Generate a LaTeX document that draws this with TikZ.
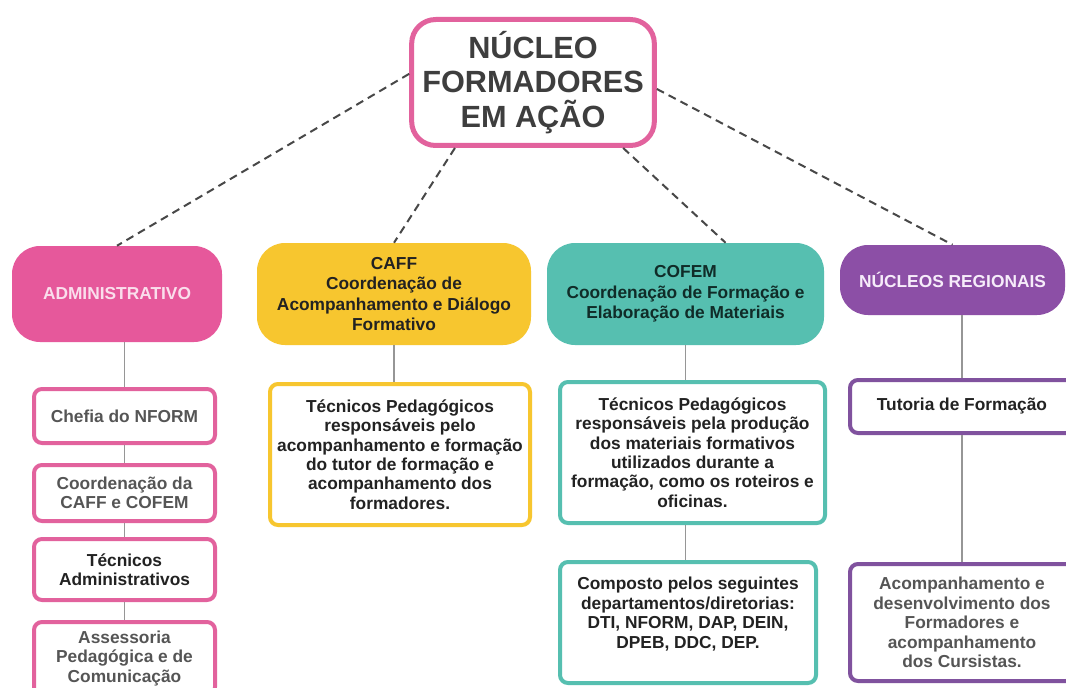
\documentclass[tikz,border=0pt]{standalone}
\usepackage{fontspec}
\setmainfont{Liberation Sans}
\usepackage{tikz}

\definecolor{nfpink}{RGB}{230,88,155}
\definecolor{nfpinkline}{RGB}{226,98,157}
\definecolor{nfyellow}{RGB}{247,198,47}
\definecolor{nfteal}{RGB}{86,191,176}
\definecolor{nfpurple}{RGB}{140,79,166}
\definecolor{nfpurpleline}{RGB}{128,82,158}
\definecolor{titlegray}{RGB}{62,62,62}
\definecolor{darktext}{RGB}{34,34,34}
\definecolor{softtext}{RGB}{85,85,85}
\definecolor{linkgray}{RGB}{72,72,72}
\definecolor{treegray}{RGB}{150,150,150}

\tikzset{
  headbox/.style={draw=nfpinkline, line width=3.75pt, rounded corners=18pt, fill=white, align=center,
    font=\fontsize{23}{26}\selectfont\bfseries, text=titlegray, inner sep=0pt,
    minimum width=182pt, minimum height=94.5pt},
  groupbox/.style={rounded corners=21pt, align=center, inner sep=0pt,
    font=\fontsize{13}{15.4}\selectfont\bfseries},
  itembox/.style={draw=#1, fill=white, line width=3pt, rounded corners=6pt, align=center, inner sep=0pt,
    font=\fontsize{13}{14.6}\selectfont\bfseries, text=darktext},
  dashlink/.style={draw=linkgray, line width=1.5pt, dash pattern=on 6pt off 4pt},
  treelink/.style={draw=treegray, line width=1.1pt},
}

\begin{document}
\begin{tikzpicture}[x=0.75pt,y=0.75pt,yscale=-1,xscale=1]
%set diagram size 1066 x 688
\clip (0,0) rectangle (1066,688);
\fill [white] (0,0) rectangle (1066,688);

%Shape: Rounded Rect (title)
\node [headbox] (top) at (533,82.5) {NÚCLEO\\FORMADORES\\EM AÇÃO};

%Shape: Rounded Rect (groups)
\node [groupbox, fill=nfpink, text={rgb,255:red,250;green,222;blue,236}, minimum width=157.5pt, minimum height=72pt] (admin) at (117,294) {ADMINISTRATIVO};
\node [groupbox, fill=nfyellow, text=darktext, minimum width=205.5pt, minimum height=76.5pt] (caff) at (394,294) {CAFF\\Coordenação de\\Acompanhamento e Diálogo\\Formativo};
\node [groupbox, fill=nfteal, text={rgb,255:red,16;green,44;blue,40}, minimum width=207.75pt, minimum height=76.5pt] (cofem) at (685.5,294) {COFEM\\Coordenação de Formação e\\Elaboração de Materiais};
\node [groupbox, fill=nfpurple, text={rgb,255:red,246;green,236;blue,250}, minimum width=168.75pt, minimum height=52.5pt] (nucleos) at (952.5,280) {NÚCLEOS REGIONAIS};

%Shape: Rounded Rect (administrativo column)
\node [itembox=nfpinkline, text=softtext, minimum width=135.75pt, minimum height=40.5pt] (chefia) at (124.5,416) {Chefia do NFORM};
\node [itembox=nfpinkline, text=softtext, minimum width=135.75pt, minimum height=42pt] (coord) at (124.5,493) {Coordenação da\\CAFF e COFEM};
\node [itembox=nfpinkline, minimum width=135.75pt, minimum height=45.75pt] (tecadm) at (124.5,569.5) {Técnicos\\Administrativos};
\node [itembox=nfpinkline, text=softtext, minimum width=135.75pt, minimum height=54.75pt] (assess) at (124.5,658.5) {Assessoria\\Pedagógica e de\\Comunicação};

%Shape: Rounded Rect (caff column)
\node [itembox=nfyellow, minimum width=195pt, minimum height=105.75pt] (caffsub) at (400,454.5) {Técnicos Pedagógicos\\responsáveis pelo\\acompanhamento e formação\\do tutor de formação e\\acompanhamento dos\\formadores.};

%Shape: Rounded Rect (cofem column)
\node [itembox=nfteal, minimum width=198.75pt, minimum height=105.75pt] (cofemsub) at (692.5,452.5) {Técnicos Pedagógicos\\responsáveis pela produção\\dos materiais formativos\\utilizados durante a\\formação, como os roteiros e\\oficinas.};
\node [itembox=nfteal, minimum width=192pt, minimum height=90.75pt] (deptos) at (688,622.5) {Composto pelos seguintes\\departamentos/diretorias:\\DTI, NFORM, DAP, DEIN,\\DPEB, DDC, DEP.\\\mbox{}};

%Shape: Rounded Rect (regionais column)
\node [itembox=nfpurpleline, minimum width=168pt, minimum height=39.75pt] (tutoria) at (962,406.5) {Tutoria de Formação};
\node [itembox=nfpurpleline, text=softtext, minimum width=168pt, minimum height=87.75pt] (acomp) at (962,622.5) {Acompanhamento e\\desenvolvimento dos\\Formadores e\\acompanhamento\\dos Cursistas.};

%Straight Lines (dashed, from title)
\draw [dashlink] (top.176) -- (admin.north);
\draw [dashlink] (top.220) -- (caff.north);
\draw [dashlink] (top.324) -- (cofem.52);
\draw [dashlink] (top.357) -- (nucleos.north);

%Straight Lines (tree)
\draw [treelink] (chefia.north |- admin.south) -- (chefia.north);
\draw [treelink] (chefia.south) -- (coord.north);
\draw [treelink] (coord.south) -- (tecadm.north);
\draw [treelink] (tecadm.south) -- (assess.north);
\draw [treelink] (caff.south) -- (caff.south |- caffsub.north);
\draw [treelink] (cofem.south) -- (cofem.south |- cofemsub.north);
\draw [treelink] (cofemsub.south -| cofem.south) -- (deptos.north -| cofem.south);
\draw [treelink] (tutoria.north |- nucleos.south) -- (tutoria.north);
\draw [treelink] (tutoria.south) -- (acomp.north);

\end{tikzpicture}
\end{document}
